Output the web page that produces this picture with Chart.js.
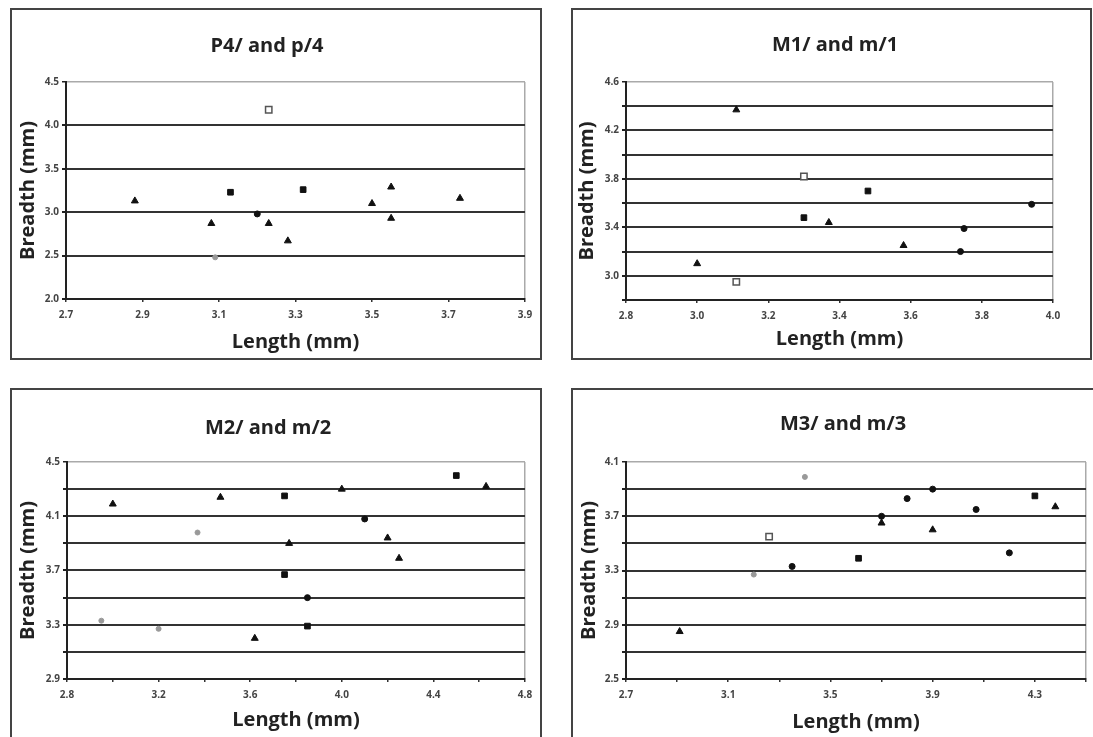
<!DOCTYPE html>
<html>
<head>
<meta charset="utf-8">
<title>Breadth vs length</title>
<script src="https://cdn.jsdelivr.net/npm/chart.js@4.4.0/dist/chart.umd.min.js"></script>
<style>
  body { margin: 0; background: #fff; width: 1093px; height: 737px; overflow: hidden; position: relative; font-family: 'Open Sans', sans-serif; }
  .panel { position: absolute; border: 2px solid #444; box-sizing: border-box; background: #fff; }
  .panel canvas { position: absolute; left: 0; top: 0; }
  .ttl { position: absolute; font-size: 20px; font-weight: bold; color: #222; line-height: 24px; white-space: nowrap; transform: translateX(-50%); }
</style>
</head>
<body>

<div class="panel" id="box1" style="left:10px;top:8px;width:532px;height:352px;">
  <canvas id="c1" width="528" height="348"></canvas>
  <div class="ttl" style="left:255px;top:23px;">P4/ and p/4</div>
</div>
<div class="panel" id="box2" style="left:571px;top:8px;width:521px;height:352px;">
  <canvas id="c2" width="517" height="348"></canvas>
  <div class="ttl" style="left:262px;top:22px;">M1/ and m/1</div>
</div>
<div class="panel" id="box3" style="left:10px;top:388px;width:532px;height:352px;">
  <canvas id="c3" width="528" height="348"></canvas>
  <div class="ttl" style="left:256px;top:25px;">M2/ and m/2</div>
</div>
<div class="panel" id="box4" style="left:571px;top:388px;width:540px;height:352px;">
  <canvas id="c4" width="536" height="348"></canvas>
  <div class="ttl" style="left:270px;top:21px;">M3/ and m/3</div>
</div>

<script>
// P4/ and p/4
const p4Triangles = [[2.88, 3.13], [3.08, 2.87], [3.23, 2.87], [3.28, 2.67], [3.50, 3.10], [3.55, 3.29], [3.55, 2.93], [3.73, 3.16]];
const p4Squares = [[3.13, 3.23], [3.32, 3.26]];
const p4Circles = [[3.20, 2.98]];
const p4OpenSquares = [[3.23, 4.18]];
const p4GrayDots = [[3.09, 2.48]];
const p4XLabels = ['2.7', '2.9', '3.1', '3.3', '3.5', '3.7', '3.9'];
const p4YLabels = ['2.0', '2.5', '3.0', '3.5', '4.0', '4.5'];

// M1/ and m/1
const m1Triangles = [[3.11, 4.37], [3.37, 3.44], [3.00, 3.10], [3.58, 3.25]];
const m1Squares = [[3.48, 3.70], [3.30, 3.48]];
const m1Circles = [[3.94, 3.59], [3.75, 3.39], [3.74, 3.20]];
const m1OpenSquares = [[3.30, 3.82], [3.11, 2.95]];
const m1GrayDots = [];
const m1XLabels = ['2.8', '3.0', '3.2', '3.4', '3.6', '3.8', '4.0'];
const m1YLabels = ['3.0', '3.4', '3.8', '4.2', '4.6'];

// M2/ and m/2
const m2Triangles = [[3.00, 4.19], [3.47, 4.24], [3.62, 3.20], [3.77, 3.90], [4.00, 4.30], [4.20, 3.94], [4.25, 3.79], [4.63, 4.32]];
const m2Squares = [[3.75, 4.25], [3.75, 3.67], [3.85, 3.29], [4.50, 4.40]];
const m2Circles = [[3.85, 3.50], [4.10, 4.08]];
const m2OpenSquares = [];
const m2GrayDots = [[2.95, 3.33], [3.20, 3.27], [3.37, 3.98]];
const m2XLabels = ['2.8', '3.2', '3.6', '4.0', '4.4', '4.8'];
const m2YLabels = ['2.9', '3.3', '3.7', '4.1', '4.5'];

// M3/ and m/3
const m3Triangles = [[2.91, 2.85], [3.70, 3.65], [3.90, 3.60], [4.38, 3.77]];
const m3Squares = [[3.61, 3.39], [4.30, 3.85]];
const m3Circles = [[3.35, 3.33], [3.70, 3.70], [3.80, 3.83], [3.90, 3.90], [4.07, 3.75], [4.20, 3.43]];
const m3OpenSquares = [[3.26, 3.55]];
const m3GrayDots = [[3.20, 3.27], [3.40, 3.99]];
const m3XLabels = ['2.7', '3.1', '3.5', '3.9', '4.3'];
const m3YLabels = ['2.5', '2.9', '3.3', '3.7', '4.1'];

const FONT = "'Open Sans', sans-serif";

function toPoints(arr) {
  return arr.map(p => ({ x: p[0], y: p[1] }));
}

function buildDatasets(tri, sq, circ, open, gray) {
  return [
    { label: 'triangles', data: toPoints(tri), pointStyle: 'triangle', pointRadius: 4, backgroundColor: '#111', borderColor: '#111', borderWidth: 1 },
    { label: 'squares', data: toPoints(sq), pointStyle: 'rect', pointRadius: 4, backgroundColor: '#111', borderColor: '#111', borderWidth: 1 },
    { label: 'circles', data: toPoints(circ), pointStyle: 'circle', pointRadius: 3, backgroundColor: '#111', borderColor: '#111', borderWidth: 1 },
    { label: 'open squares', data: toPoints(open), pointStyle: 'rect', pointRadius: 4.5, backgroundColor: '#fff', borderColor: '#555', borderWidth: 1.5 },
    { label: 'gray dots', data: toPoints(gray), pointStyle: 'circle', pointRadius: 2.5, backgroundColor: '#999', borderColor: '#999', borderWidth: 1 }
  ];
}

function labelFilter(list) {
  return v => {
    const s = Number(v).toFixed(1);
    return list.includes(s) ? s : '';
  };
}

function makeChart(id, datasets, o) {
  const ctx = document.getElementById(id).getContext('2d');
  return new Chart(ctx, {
    type: 'scatter',
    data: { datasets: datasets },
    options: {
      responsive: false,
      animation: false,
      events: [],
      layout: { autoPadding: false, padding: { left: 0, top: 72, right: o.padRight, bottom: 0 } },
      plugins: { legend: { display: false }, tooltip: { enabled: false } },
      scales: {
        x: {
          type: 'linear', position: 'bottom',
          min: o.xMin, max: o.xMax,
          ticks: { stepSize: o.xStep, autoSkip: false, maxRotation: 0, padding: 7, color: '#444', font: { family: FONT, size: 10, weight: 'bold' }, callback: labelFilter(o.xLabels) },
          grid: {
            color: c => (c.index === c.scale.ticks.length - 1 ? '#aaa' : 'rgba(0,0,0,0)'),
            tickColor: '#333', tickLength: 3, lineWidth: 1.5
          },
          border: { color: '#222', width: 2 },
          title: { display: true, text: 'Length (mm)', color: '#222', font: { family: FONT, size: 20, weight: 'bold' }, padding: { top: 0, bottom: o.xTitlePad } },
          afterFit: s => { s.height = o.xHeight; }
        },
        y: {
          type: 'linear', position: 'left',
          min: o.yMin, max: o.yMax,
          ticks: { stepSize: o.yStep, autoSkip: false, padding: 3, color: '#444', font: { family: FONT, size: 10, weight: 'bold' }, callback: labelFilter(o.yLabels) },
          grid: {
            color: c => (c.index === c.scale.ticks.length - 1 ? '#aaa' : '#333'),
            lineWidth: c => (c.index === c.scale.ticks.length - 1 ? 1.5 : 2),
            tickColor: '#222', tickLength: 4
          },
          border: { color: '#222', width: 2 },
          title: { display: true, text: 'Breadth (mm)', color: '#222', font: { family: FONT, size: 20, weight: 'bold' }, padding: { top: o.yTitlePad, bottom: 0 } },
          afterFit: s => { s.width = o.yWidth; }
        }
      }
    }
  });
}

document.addEventListener('DOMContentLoaded', () => {
  makeChart('c1', buildDatasets(p4Triangles, p4Squares, p4Circles, p4OpenSquares, p4GrayDots), {
    xMin: 2.7, xMax: 3.9, xStep: 0.2, xLabels: p4XLabels,
    yMin: 2.0, yMax: 4.5, yStep: 0.5, yLabels: p4YLabels,
    padRight: 15, yWidth: 54, xHeight: 59, xTitlePad: 4, yTitlePad: 4
  });
  makeChart('c2', buildDatasets(m1Triangles, m1Squares, m1Circles, m1OpenSquares, m1GrayDots), {
    xMin: 2.8, xMax: 4.0, xStep: 0.2, xLabels: m1XLabels,
    yMin: 2.8, yMax: 4.6, yStep: 0.2, yLabels: m1YLabels,
    padRight: 37, yWidth: 53, xHeight: 58, xTitlePad: 7, yTitlePad: 2
  });
  makeChart('c3', buildDatasets(m2Triangles, m2Squares, m2Circles, m2OpenSquares, m2GrayDots), {
    xMin: 2.8, xMax: 4.8, xStep: 0.2, xLabels: m2XLabels,
    yMin: 2.9, yMax: 4.5, yStep: 0.2, yLabels: m2YLabels,
    padRight: 15, yWidth: 55, xHeight: 59, xTitlePad: 6, yTitlePad: 4
  });
  makeChart('c4', buildDatasets(m3Triangles, m3Squares, m3Circles, m3OpenSquares, m3GrayDots), {
    xMin: 2.7, xMax: 4.5, xStep: 0.2, xLabels: m3XLabels,
    yMin: 2.5, yMax: 4.1, yStep: 0.2, yLabels: m3YLabels,
    padRight: 23, yWidth: 53, xHeight: 59, xTitlePad: 4, yTitlePad: 4
  });
});
</script>
</body>
</html>
